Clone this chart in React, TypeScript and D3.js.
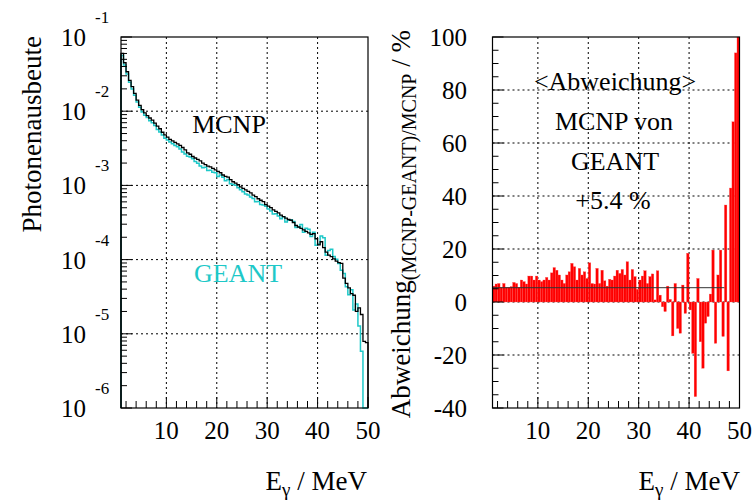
import React from 'react';
import * as d3 from 'd3';

// ---- data (0.5 MeV bins from 1 to 50 MeV) ----
const binStart = 1;
const binWidth = 0.5;

// MCNP photon yield per bin (black)
const mcnpYield = [
  0.060, 0.045, 0.034, 0.026, 0.0214, 0.0174, 0.0141, 0.0120, 0.0105, 0.0095,
  0.0087, 0.0081, 0.0076, 0.0069, 0.0063, 0.0058, 0.0052, 0.0048, 0.00447, 0.00417,
  0.00398, 0.0038, 0.00363, 0.00347, 0.00324, 0.00302, 0.00275, 0.00263, 0.00245, 0.00234,
  0.00224, 0.00214, 0.0020, 0.00191, 0.00182, 0.00178, 0.0017, 0.00162, 0.00155, 0.00148,
  0.00138, 0.00132, 0.00129, 0.0012, 0.00112, 0.00107, 0.00102, 0.000955, 0.000912, 0.000871,
  0.000832, 0.000794, 0.000741, 0.000708, 0.000661, 0.000631, 0.000603, 0.00055, 0.000525, 0.000501,
  0.000468, 0.000447, 0.000427, 0.000398, 0.00038, 0.000363, 0.000347, 0.000339, 0.000316, 0.000288,
  0.000275, 0.000263, 0.000251, 0.00024, 0.000229, 0.000219, 0.000224, 0.000191, 0.000158, 0.000174,
  0.000145, 0.000126, 0.000115, 0.00011, 0.000102, 0.0000955, 0.0000912, 0.0000891, 0.0000562, 0.0000479,
  0.0000417, 0.0000347, 0.0000331, 0.00002, 0.0000224, 0.0000182, 0.0000079, 0.0000076,
];

// deviation (MCNP-GEANT)/MCNP in % per bin (right panel, red)
const deviation = [
  6, 6.8, 7, 5.5, 7, 5.5, 5.5, 5.8, 7.4, 7,
  5.5, 8.3, 7.7, 6.8, 9.8, 9.8, 8.3, 9.8, 8.3, 7.7,
  8.3, 9.3, 8.3, 11, 13, 12, 10.2, 8.3, 7, 10.2,
  11.4, 14.6, 13.3, 8.3, 12.7, 10.2, 11.4, 8.9, 14.8, 7,
  6.8, 12.7, 7, 12, 8, 6, 8.6, 8.3, 9.8, 12,
  10.8, 12.3, 10.2, 15.2, 8.3, 12.3, 9.6, 4.8, 8.3, 9.8,
  11.8, 7, 9.6, 10.6, 0.8, 11.8, 2.6, -1.8, -3.6, 6,
  1, -12.8, 7, -10, -11.8, 6.4, -4.3, 18.4, -3, -19.4,
  -35.7, 8.9, -15, -25, -8, -5.5, 3, 19.6, -15.6, 10.2,
  19.6, -13, 36.6, -26, 43, 68, 94, 100,
];

const meanDeviation = 5.4;
const meanLineRange = [1, 47];

const xTickValues = [10, 20, 30, 40, 50];
const logDecades = [-1, -2, -3, -4, -5, -6];
const devTickValues = [100, 80, 60, 40, 20, 0, -20, -40];

// GEANT derived from MCNP and deviation
const geantYield = mcnpYield.map((v, i) => v * (1 - deviation[i] / 100));

const FONT = "'Liberation Serif', 'Times New Roman', serif";
const CYAN = '#1ec8c8';

function stepPath(values: number[], x: any, y: any, minV: number) {
  const pts: [number, number][] = [];
  pts.push([x(binStart), y(minV)]);
  values.forEach((v, i) => {
    const lo = binStart + i * binWidth;
    const hi = lo + binWidth;
    const vv = Math.max(v, minV);
    pts.push([x(lo), y(vv)]);
    pts.push([x(hi), y(vv)]);
  });
  pts.push([x(binStart + values.length * binWidth), y(minV)]);
  return d3.line()(pts) || '';
}

export default function App() {
  // left panel
  const L = { x0: 121, x1: 368, y0: 37, y1: 408 };
  const R = { x0: 492.5, x1: 739.5, y0: 37, y1: 408 };
  const xL = d3.scaleLinear().domain([1, 50]).range([L.x0, L.x1]);
  const yL = d3.scaleLog().domain([1e-6, 1e-1]).range([L.y1, L.y0]).clamp(true);
  const xR = d3.scaleLinear().domain([1, 50]).range([R.x0, R.x1]);
  const yR = d3.scaleLinear().domain([-40, 100]).range([R.y1, R.y0]);

  const minorX: number[] = d3.range(2, 50, 2).filter((v) => v % 10 !== 0);
  const logMinor: number[] = [];
  for (let d = -6; d < -1; d++) for (let m = 2; m <= 9; m++) logMinor.push(m * Math.pow(10, d));
  const devMinor = d3.range(-40, 101, 5).filter((v) => v % 20 !== 0);

  const grid = { stroke: '#000', strokeWidth: 1, strokeDasharray: '2 3' };

  return (
    <svg width={755} height={502} style={{ position: 'absolute', left: 0, top: 0, background: '#fff' }} fontFamily={FONT}>
      <rect x={0} y={0} width={755} height={502} fill="#fff" />

      {/* ===== LEFT PANEL ===== */}
      <g>
        {xTickValues.filter((v) => v < 50).map((v) => (
          <line key={'gxl' + v} x1={xL(v)} x2={xL(v)} y1={L.y0} y2={L.y1} {...grid} />
        ))}
        {logDecades.filter((d) => d < -1 && d > -6).map((d) => (
          <line key={'gyl' + d} x1={L.x0} x2={L.x1} y1={yL(Math.pow(10, d))} y2={yL(Math.pow(10, d))} {...grid} />
        ))}
        <path d={stepPath(geantYield, xL, yL, 1e-6)} fill="none" stroke={CYAN} strokeWidth={1.5} />
        <path d={stepPath(mcnpYield, xL, yL, 1e-6)} fill="none" stroke="#000" strokeWidth={1.3} />
        {/* ticks */}
        {minorX.map((v) => (
          <line key={'mxl' + v} x1={xL(v)} x2={xL(v)} y1={L.y1} y2={L.y1 - 7} stroke="#000" />
        ))}
        {xTickValues.map((v) => (
          <line key={'Mxl' + v} x1={xL(v)} x2={xL(v)} y1={L.y1} y2={L.y1 - 11} stroke="#000" />
        ))}
        {logMinor.map((v, i) => (
          <line key={'myl' + i} x1={L.x0} x2={L.x0 + 6} y1={yL(v)} y2={yL(v)} stroke="#000" />
        ))}
        {logDecades.map((d) => (
          <line key={'Myl' + d} x1={L.x0} x2={L.x0 + 11} y1={yL(Math.pow(10, d))} y2={yL(Math.pow(10, d))} stroke="#000" />
        ))}
        <rect x={L.x0} y={L.y0} width={L.x1 - L.x0} height={L.y1 - L.y0} fill="none" stroke="#000" strokeWidth={1.2} />
        {/* tick labels */}
        {logDecades.map((d) => {
          const ty = yL(Math.pow(10, d));
          return (
            <g key={'lbl' + d}>
              <text x={86} y={ty + 9} fontSize={25} textAnchor="end">10</text>
              <text x={95} y={ty - 14} fontSize={17}>{String(d)}</text>
            </g>
          );
        })}
        {xTickValues.map((v) => (
          <text key={'xl' + v} x={xL(v)} y={439} fontSize={25} textAnchor="middle">{v}</text>
        ))}
        <text x={367} y={490} fontSize={27} textAnchor="end">
          E<tspan fontSize={19} dy={6}>γ</tspan><tspan dy={-6}> / MeV</tspan>
        </text>
        <text transform="translate(41,36) rotate(-90)" fontSize={27} textAnchor="end">Photonenausbeute</text>
        <text x={229} y={133} fontSize={26} textAnchor="middle">MCNP</text>
        <text x={238} y={282} fontSize={26} textAnchor="middle" fill={CYAN}>GEANT</text>
      </g>

      {/* ===== RIGHT PANEL ===== */}
      <g>
        {xTickValues.filter((v) => v < 50).map((v) => (
          <line key={'gxr' + v} x1={xR(v)} x2={xR(v)} y1={R.y0} y2={R.y1} {...grid} />
        ))}
        {devTickValues.filter((v) => v < 100 && v > -40).map((v) => (
          <line key={'gyr' + v} x1={R.x0} x2={R.x1} y1={yR(v)} y2={yR(v)} {...grid} />
        ))}
        {deviation.map((v, i) => {
          const lo = binStart + i * binWidth;
          const hi = lo + binWidth;
          const yTop = yR(Math.max(0, v));
          const yBot = yR(Math.min(0, v));
          return (
            <rect key={'bar' + i} x={xR(lo)} width={xR(hi) - xR(lo)} y={yTop} height={Math.max(0.5, yBot - yTop)}
              fill="#ff0000" stroke="#ff5050" strokeWidth={0.3} />
          );
        })}
        <line x1={xR(meanLineRange[0])} x2={xR(meanLineRange[1])} y1={yR(meanDeviation)} y2={yR(meanDeviation)} stroke="#333" strokeWidth={1} />
        {minorX.map((v) => (
          <line key={'mxr' + v} x1={xR(v)} x2={xR(v)} y1={R.y1} y2={R.y1 - 7} stroke="#000" />
        ))}
        {xTickValues.map((v) => (
          <line key={'Mxr' + v} x1={xR(v)} x2={xR(v)} y1={R.y1} y2={R.y1 - 11} stroke="#000" />
        ))}
        {devMinor.map((v) => (
          <line key={'myr' + v} x1={R.x0} x2={R.x0 + 6} y1={yR(v)} y2={yR(v)} stroke="#000" />
        ))}
        {devTickValues.map((v) => (
          <line key={'Myr' + v} x1={R.x0} x2={R.x0 + 11} y1={yR(v)} y2={yR(v)} stroke="#000" />
        ))}
        <rect x={R.x0} y={R.y0} width={R.x1 - R.x0} height={R.y1 - R.y0} fill="none" stroke="#000" strokeWidth={1.2} />
        {devTickValues.map((v) => (
          <text key={'yr' + v} x={467} y={yR(v) + 9} fontSize={25} textAnchor="end">{v}</text>
        ))}
        {xTickValues.map((v) => (
          <text key={'xr' + v} x={xR(v)} y={439} fontSize={25} textAnchor="middle">{v}</text>
        ))}
        <text x={740} y={490} fontSize={27} textAnchor="end">
          E<tspan fontSize={19} dy={6}>γ</tspan><tspan dy={-6}> / MeV</tspan>
        </text>
        <text transform="translate(410,30) rotate(-90)" fontSize={27} textAnchor="end">
          Abweichung<tspan fontSize={20} dy={6}>(MCNP-GEANT)/MCNP</tspan><tspan dy={-6}> / %</tspan>
        </text>
        <text x={615} y={90} fontSize={26} textAnchor="middle">&lt;Abweichung&gt;</text>
        <text x={614} y={130} fontSize={26} textAnchor="middle">MCNP von</text>
        <text x={615} y={170} fontSize={26} textAnchor="middle">GEANT</text>
        <text x={613} y={209} fontSize={26} textAnchor="middle">+5.4 %</text>
      </g>
    </svg>
  );
}
